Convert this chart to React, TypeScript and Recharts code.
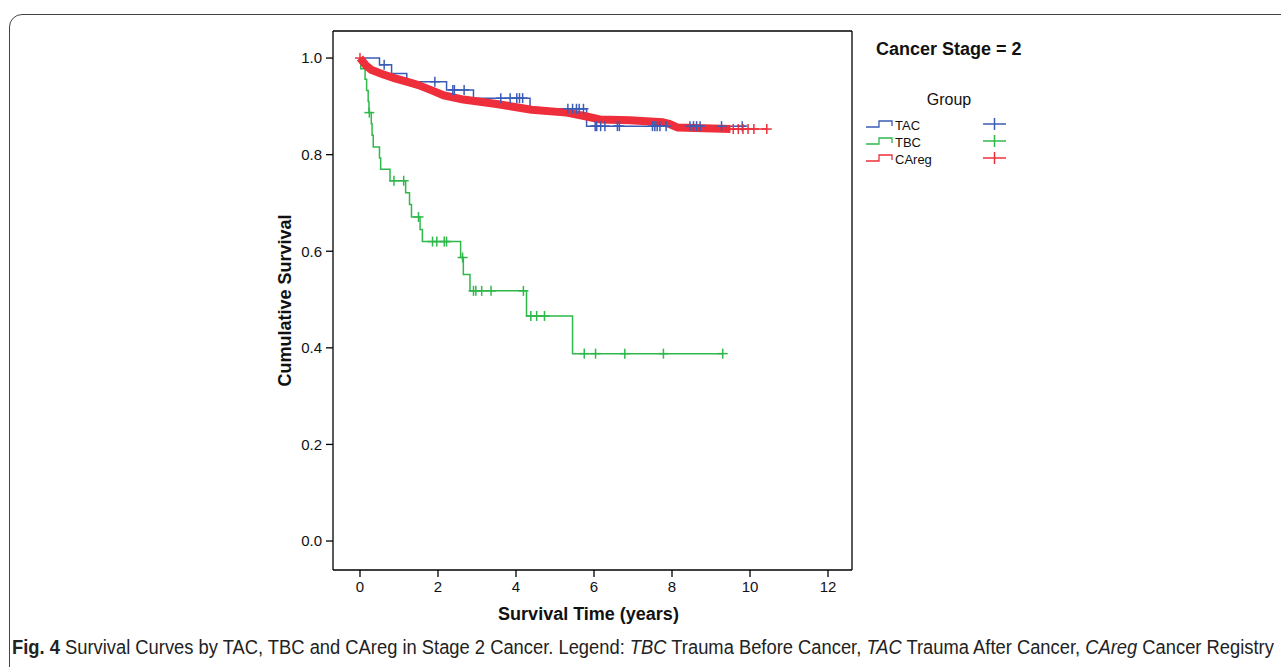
import React, { useLayoutEffect, useRef, useState } from 'react';
import {
  ComposedChart,
  Line,
  Scatter,
  XAxis,
  YAxis,
  Label,
  ReferenceLine,
} from 'recharts';

const xTicks = [0, 2, 4, 6, 8, 10, 12];
const yTicks = [0, 0.2, 0.4, 0.6, 0.8, 1.0];
const xDomain = [-0.692, 12.615];
const yDomain = [-0.06, 1.056];

// TAC - trauma after cancer (blue)
const tacCurve = [
  { t: 0, s: 1.0 },
  { t: 0.5, s: 0.986 },
  { t: 0.81, s: 0.968 },
  { t: 1.2, s: 0.951 },
  { t: 2.22, s: 0.934 },
  { t: 2.91, s: 0.917 },
  { t: 4.36, s: 0.895 },
  { t: 5.81, s: 0.859 },
  { t: 9.9, s: 0.859 },
];
const tacCensored = [
  { t: 0.62, s: 0.986 },
  { t: 1.92, s: 0.951 },
  { t: 2.38, s: 0.934 },
  { t: 2.42, s: 0.934 },
  { t: 2.67, s: 0.934 },
  { t: 3.61, s: 0.917 },
  { t: 3.85, s: 0.917 },
  { t: 4.02, s: 0.917 },
  { t: 4.09, s: 0.917 },
  { t: 4.17, s: 0.917 },
  { t: 5.33, s: 0.895 },
  { t: 5.45, s: 0.895 },
  { t: 5.55, s: 0.895 },
  { t: 5.62, s: 0.895 },
  { t: 5.73, s: 0.895 },
  { t: 6.03, s: 0.859 },
  { t: 6.07, s: 0.859 },
  { t: 6.17, s: 0.859 },
  { t: 6.28, s: 0.859 },
  { t: 6.6, s: 0.859 },
  { t: 6.65, s: 0.859 },
  { t: 7.5, s: 0.859 },
  { t: 7.56, s: 0.859 },
  { t: 7.62, s: 0.859 },
  { t: 7.69, s: 0.859 },
  { t: 7.85, s: 0.859 },
  { t: 8.46, s: 0.859 },
  { t: 8.55, s: 0.859 },
  { t: 8.63, s: 0.859 },
  { t: 8.72, s: 0.859 },
  { t: 9.27, s: 0.859 },
  { t: 9.8, s: 0.859 },
];

// TBC - trauma before cancer (green)
const tbcCurve = [
  { t: 0, s: 1.0 },
  { t: 0.02, s: 0.978 },
  { t: 0.13, s: 0.956 },
  { t: 0.17, s: 0.933 },
  { t: 0.21, s: 0.91 },
  { t: 0.23, s: 0.887 },
  { t: 0.29, s: 0.864 },
  { t: 0.31, s: 0.84 },
  { t: 0.34, s: 0.816 },
  { t: 0.5, s: 0.793 },
  { t: 0.53, s: 0.77 },
  { t: 0.77, s: 0.746 },
  { t: 1.17, s: 0.721 },
  { t: 1.27, s: 0.697 },
  { t: 1.32, s: 0.671 },
  { t: 1.54, s: 0.645 },
  { t: 1.6, s: 0.62 },
  { t: 2.58, s: 0.587 },
  { t: 2.65, s: 0.552 },
  { t: 2.82, s: 0.518 },
  { t: 4.27, s: 0.466 },
  { t: 5.45, s: 0.388 },
  { t: 9.3, s: 0.388 },
];
const tbcCensored = [
  { t: 0.24, s: 0.887 },
  { t: 0.87, s: 0.746 },
  { t: 1.12, s: 0.746 },
  { t: 1.5, s: 0.671 },
  { t: 1.86, s: 0.62 },
  { t: 1.97, s: 0.62 },
  { t: 2.16, s: 0.62 },
  { t: 2.22, s: 0.62 },
  { t: 2.63, s: 0.587 },
  { t: 2.91, s: 0.518 },
  { t: 2.97, s: 0.518 },
  { t: 3.12, s: 0.518 },
  { t: 3.36, s: 0.518 },
  { t: 4.19, s: 0.518 },
  { t: 4.38, s: 0.466 },
  { t: 4.53, s: 0.466 },
  { t: 4.73, s: 0.466 },
  { t: 5.75, s: 0.388 },
  { t: 6.04, s: 0.388 },
  { t: 6.79, s: 0.388 },
  { t: 7.78, s: 0.388 },
  { t: 9.3, s: 0.388 },
];

// CAreg - cancer registry (red), dense censoring makes a thick band
const caregBand = [
  { t: 0, s: 1.0 },
  { t: 0.15, s: 0.985 },
  { t: 0.3, s: 0.975 },
  { t: 0.6, s: 0.966 },
  { t: 0.9, s: 0.958 },
  { t: 1.33, s: 0.948 },
  { t: 1.5, s: 0.944 },
  { t: 1.84, s: 0.933 },
  { t: 2.14, s: 0.923 },
  { t: 2.65, s: 0.914 },
  { t: 3.5, s: 0.905 },
  { t: 4.4, s: 0.893 },
  { t: 5.3, s: 0.887 },
  { t: 5.75, s: 0.88 },
  { t: 6.15, s: 0.873 },
  { t: 6.92, s: 0.871 },
  { t: 7.77, s: 0.867 },
  { t: 7.95, s: 0.863 },
  { t: 8.15, s: 0.856 },
  { t: 9.5, s: 0.853 },
];
const caregTail = [
  { t: 9.45, s: 0.853 },
  { t: 10.43, s: 0.853 },
];
const caregCensored = [
  { t: 0, s: 1.0 },
  { t: 9.57, s: 0.853 },
  { t: 9.7, s: 0.853 },
  { t: 9.82, s: 0.853 },
  { t: 9.95, s: 0.853 },
  { t: 10.1, s: 0.853 },
  { t: 10.43, s: 0.853 },
];

const groups = ['TAC', 'TBC', 'CAreg'];
const colors = ['#3b5cb6', '#2fb84b', '#ee2f3b'];

const font = '"Liberation Sans", Arial, sans-serif';

const cross = (color: string, h: number) => (props: any) => {
  const { cx, cy } = props;
  return (
    <g stroke={color} strokeWidth={1.5}>
      <line x1={cx - h} x2={cx + h} y1={cy} y2={cy} />
      <line x1={cx} x2={cx} y1={cy - h} y2={cy + h} />
    </g>
  );
};

function GroupLegend() {
  return (
    <svg
      width={240}
      height={150}
      style={{ position: 'absolute', left: 850, top: 30 }}
    >
      <text x={26} y={25} fontFamily={font} fontWeight="bold" fontSize={18} fill="#111">
        Cancer Stage = 2
      </text>
      <text x={99} y={75} fontFamily={font} fontSize={16} fill="#111" textAnchor="middle">
        Group
      </text>
      {groups.map((g, i) => {
        const y = 94 + i * 17;
        return (
          <g key={g}>
            <path
              d={`M16 ${y + 3} H29 V${y - 3} H42 V${y + 2}`}
              fill="none"
              stroke={colors[i]}
              strokeWidth={1.3}
            />
            <text x={45} y={y + 6} fontFamily={font} fontSize={13} fill="#111">
              {g}
            </text>
            <g stroke={colors[i]} strokeWidth={1.5}>
              <line x1={133} x2={156} y1={y} y2={y} />
              <line x1={144.5} x2={144.5} y1={y - 6} y2={y + 6} />
            </g>
          </g>
        );
      })}
    </svg>
  );
}

// caption is squeezed horizontally to the reference's condensed width
function Caption() {
  const ref = useRef<HTMLDivElement>(null);
  const [scale, setScale] = useState(0.89);
  useLayoutEffect(() => {
    if (ref.current) {
      const w = ref.current.scrollWidth;
      if (w > 0) setScale(1262 / w);
    }
  }, []);
  return (
    <div
      ref={ref}
      style={{
        position: 'absolute',
        left: 12,
        top: 636,
        whiteSpace: 'nowrap',
        fontFamily: font,
        fontSize: 20,
        lineHeight: '22px',
        color: '#222',
        transform: `scaleX(${scale})`,
        transformOrigin: 'left top',
      }}
    >
      <b>Fig. 4</b> Survival Curves by TAC, TBC and CAreg in Stage 2 Cancer. Legend:{' '}
      <i>TBC</i> Trauma Before Cancer, <i>TAC</i> Trauma After Cancer, <i>CAreg</i> Cancer
      Registry
    </div>
  );
}

export default function App() {
  return (
    <div
      style={{
        position: 'absolute',
        left: 0,
        top: 0,
        width: 1281,
        height: 667,
        overflow: 'hidden',
        background: '#fff',
      }}
    >
      <div
        style={{
          position: 'absolute',
          left: 9,
          top: 14,
          width: 1320,
          height: 720,
          border: '1.5px solid #444',
          borderRadius: 13,
        }}
      />
      <div style={{ position: 'absolute', left: 0, top: 0 }}>
        <ComposedChart
          width={1281}
          height={667}
          margin={{ top: 31, right: 429, bottom: 67, left: 273 }}
        >
          <XAxis
            dataKey="t"
            type="number"
            domain={xDomain}
            allowDataOverflow
            ticks={xTicks}
            tickSize={7}
            tickMargin={4}
            height={30}
            axisLine={{ stroke: '#000', strokeWidth: 1.3 }}
            tickLine={{ stroke: '#000', strokeWidth: 1.3 }}
            tick={{ fill: '#111', fontSize: 15, fontFamily: font }}
          >
            <Label
              value="Survival Time (years)"
              position="bottom"
              offset={7}
              dx={-4}
              style={{ fontFamily: font, fontWeight: 'bold', fontSize: 18, fill: '#111' }}
            />
          </XAxis>
          <YAxis
            dataKey="s"
            type="number"
            domain={yDomain}
            allowDataOverflow
            ticks={yTicks}
            tickFormatter={(v: number) => v.toFixed(1)}
            tickSize={7}
            tickMargin={4}
            width={60}
            axisLine={{ stroke: '#000', strokeWidth: 1.3 }}
            tickLine={{ stroke: '#000', strokeWidth: 1.3 }}
            tick={{ fill: '#111', fontSize: 15, fontFamily: font }}
          >
            <Label
              value="Cumulative Survival"
              angle={-90}
              position="insideLeft"
              offset={12}
              style={{
                textAnchor: 'middle',
                fontFamily: font,
                fontWeight: 'bold',
                fontSize: 18,
                fill: '#111',
              }}
            />
          </YAxis>
          <ReferenceLine x={xDomain[1]} stroke="#000" strokeWidth={1.3} />
          <ReferenceLine y={yDomain[1]} stroke="#000" strokeWidth={1.3} />

          <Line
            data={tacCurve}
            dataKey="s"
            type="stepAfter"
            stroke={colors[0]}
            strokeWidth={1.5}
            dot={false}
            isAnimationActive={false}
          />
          <Scatter
            data={tacCensored}
            dataKey="s"
            shape={cross(colors[0], 5)}
            isAnimationActive={false}
          />
          <Line
            data={tbcCurve}
            dataKey="s"
            type="stepAfter"
            stroke={colors[1]}
            strokeWidth={1.5}
            dot={false}
            isAnimationActive={false}
          />
          <Scatter
            data={tbcCensored}
            dataKey="s"
            shape={cross(colors[1], 5)}
            isAnimationActive={false}
          />
          <Line
            data={caregBand}
            dataKey="s"
            type="linear"
            stroke={colors[2]}
            strokeWidth={8}
            strokeLinejoin="round"
            dot={false}
            isAnimationActive={false}
          />
          <Line
            data={caregTail}
            dataKey="s"
            type="linear"
            stroke={colors[2]}
            strokeWidth={1.5}
            dot={false}
            isAnimationActive={false}
          />
          <Scatter
            data={caregCensored}
            dataKey="s"
            shape={cross(colors[2], 5)}
            isAnimationActive={false}
          />
        </ComposedChart>
      </div>
      <GroupLegend />
      <Caption />
    </div>
  );
}
